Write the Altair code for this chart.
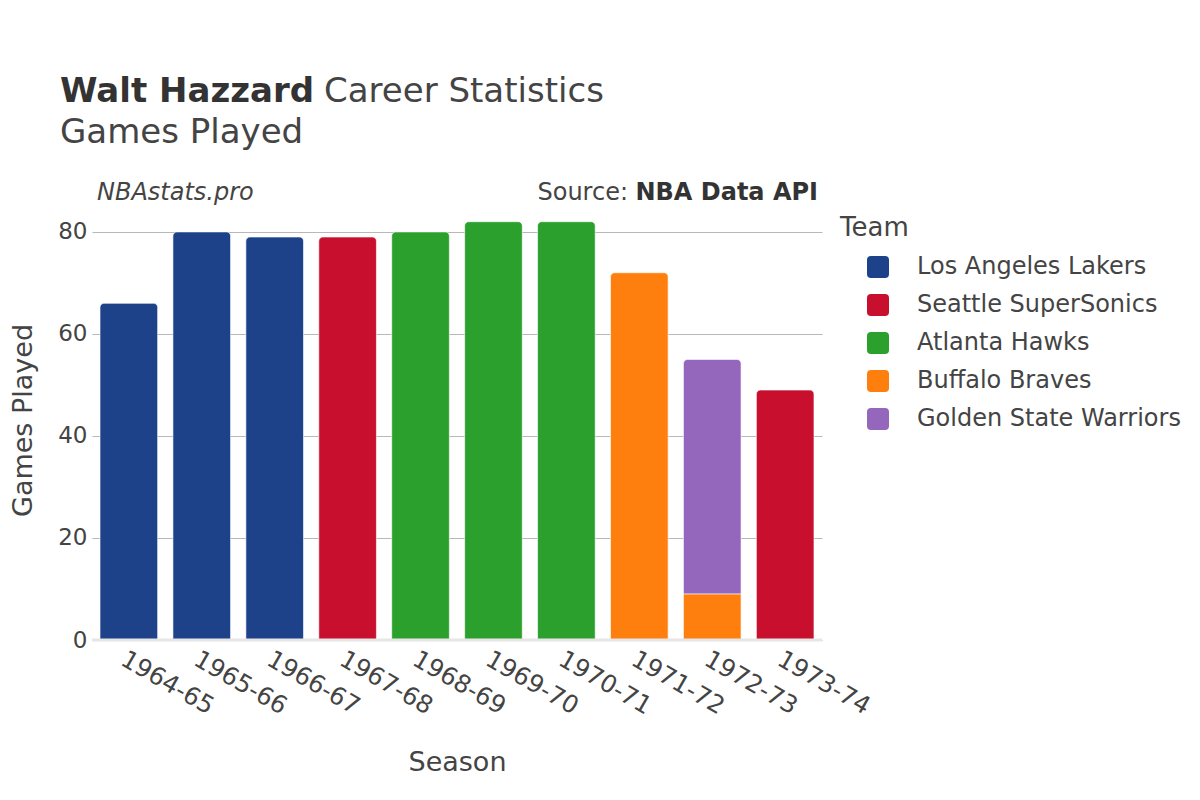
import altair as alt
import pandas as pd

seasons = ["1964-65", "1965-66", "1966-67", "1967-68", "1968-69", "1969-70",
           "1970-71", "1971-72", "1972-73", "1972-73", "1973-74"]
teams = ["Los Angeles Lakers", "Los Angeles Lakers", "Los Angeles Lakers",
         "Seattle SuperSonics", "Atlanta Hawks", "Atlanta Hawks", "Atlanta Hawks",
         "Buffalo Braves", "Buffalo Braves", "Golden State Warriors",
         "Seattle SuperSonics"]
games = [66, 80, 79, 79, 80, 82, 82, 72, 9, 46, 49]
stack_order = [0, 0, 0, 0, 0, 0, 0, 0, 0, 1, 0]
is_top = [True, True, True, True, True, True, True, True, False, True, True]

season_order = ["1964-65", "1965-66", "1966-67", "1967-68", "1968-69", "1969-70",
                "1970-71", "1971-72", "1972-73", "1973-74"]
team_order = ["Los Angeles Lakers", "Seattle SuperSonics", "Atlanta Hawks",
              "Buffalo Braves", "Golden State Warriors"]
team_colors = ["#1d428a", "#c8102e", "#2ca02c", "#ff7f0e", "#9467bd"]

df = pd.DataFrame({"season": seasons, "team": teams, "games": games,
                   "order": stack_order, "top": is_top})

FONT = "DejaVu Sans"
W, H = 730, 430
YMAX = 84.3

rounded = ("M -0.64 -1 L 0.64 -1 Q 1 -1 1 -0.64 L 1 0.64 Q 1 1 0.64 1 "
           "L -0.64 1 Q -1 1 -1 0.64 L -1 -0.64 Q -1 -1 -0.64 -1 Z")

xenc = alt.X("season:N", sort=season_order,
             scale=alt.Scale(domain=season_order, paddingInner=0.21, paddingOuter=0.11),
             axis=alt.Axis(title="Season", labelAngle=30, labelAlign="left",
                           labelBaseline="top", labelPadding=7, labelFontSize=24.5,
                           labelColor="#444444", ticks=False, domain=False,
                           titleFontSize=27, titleColor="#444444", titleFontWeight="normal",
                           titleY=130, titleBaseline="alphabetic", grid=False))
yscale = alt.Scale(domain=[0, YMAX], nice=False, zero=True)
color = alt.Color("team:N", scale=alt.Scale(domain=team_order, range=team_colors),
                  legend=alt.Legend(title="Team", orient="none", legendX=748, legendY=5,
                                    titleFontSize=26, titleColor="#444444",
                                    titleFontWeight="normal", titlePadding=14,
                                    labelFontSize=24, labelColor="#444444", labelLimit=0,
                                    symbolType=rounded, symbolSize=484, symbolOffset=26,
                                    symbolStrokeWidth=0, labelOffset=27, rowPadding=14))

base = alt.Chart(df).transform_stack(
    stack="games", groupby=["season"], as_=["y0", "y1"],
    sort=[alt.SortField("order", order="ascending")])

yenc = alt.Y("y1:Q", scale=yscale,
             axis=alt.Axis(title="Games Played", values=[0, 20, 40, 60, 80],
                           labelFontSize=23, labelColor="#444444", labelPadding=5,
                           ticks=False, domain=False, grid=True, gridColor="#b8b8b8",
                           gridWidth=1, titleFontSize=27, titleColor="#444444",
                           titleFontWeight="normal", titleX=-61, titleY=H / 2 - 5,
                           titleBaseline="alphabetic"))

top_bars = base.transform_filter("datum.top").mark_bar(
    cornerRadiusTopLeft=4, cornerRadiusTopRight=4, stroke="white", strokeWidth=0.6
).encode(x=xenc, y=yenc, y2="y0:Q", color=color)

low_bars = base.transform_filter("!datum.top").mark_bar(
    stroke="white", strokeWidth=0.6
).encode(x=alt.X("season:N", sort=season_order), y=alt.Y("y1:Q", scale=yscale),
         y2="y0:Q", color=alt.Color("team:N"))

zero_df = pd.DataFrame({"v": [0]})
zero_line = alt.Chart(zero_df).mark_rule(color="#e6e6e6", strokeWidth=3).encode(
    y=alt.Y("v:Q", scale=yscale), x=alt.value(0), x2=alt.value(W))

txt = pd.DataFrame({"k": [0]})
def label(text, x, y, size, weight="normal", style="normal", align="left", color="#333333"):
    return alt.Chart(txt).mark_text(
        text=text, font=FONT, fontSize=size, fontWeight=weight, fontStyle=style,
        align=align, baseline="alphabetic", color=color
    ).encode(x=alt.value(x), y=alt.value(y))

t1 = label("Walt Hazzard", -32, -108, 34, weight="bold")
t2 = label("Career Statistics", 232, -108, 34, color="#444444")
t3 = label("Games Played", -32, -67, 34, color="#444444")
t4 = label("NBAstats.pro", 5, -10, 24, style="italic", color="#444444")
t5 = label("NBA Data API", 726, -10, 24, weight="bold", align="right")
t6 = label("Source:", 536, -10, 24, align="right", color="#444444")

chart = alt.layer(top_bars, low_bars, zero_line, t1, t2, t3, t4, t5, t6).properties(
    width=W, height=H,
    autosize=alt.AutoSizeParams(type="none"),
    padding={"left": 84, "top": 202, "right": 370, "bottom": 152},
).configure(font=FONT).configure_view(stroke=None)

chart.save("out.html", embed_options={"renderer": "svg", "actions": False})
